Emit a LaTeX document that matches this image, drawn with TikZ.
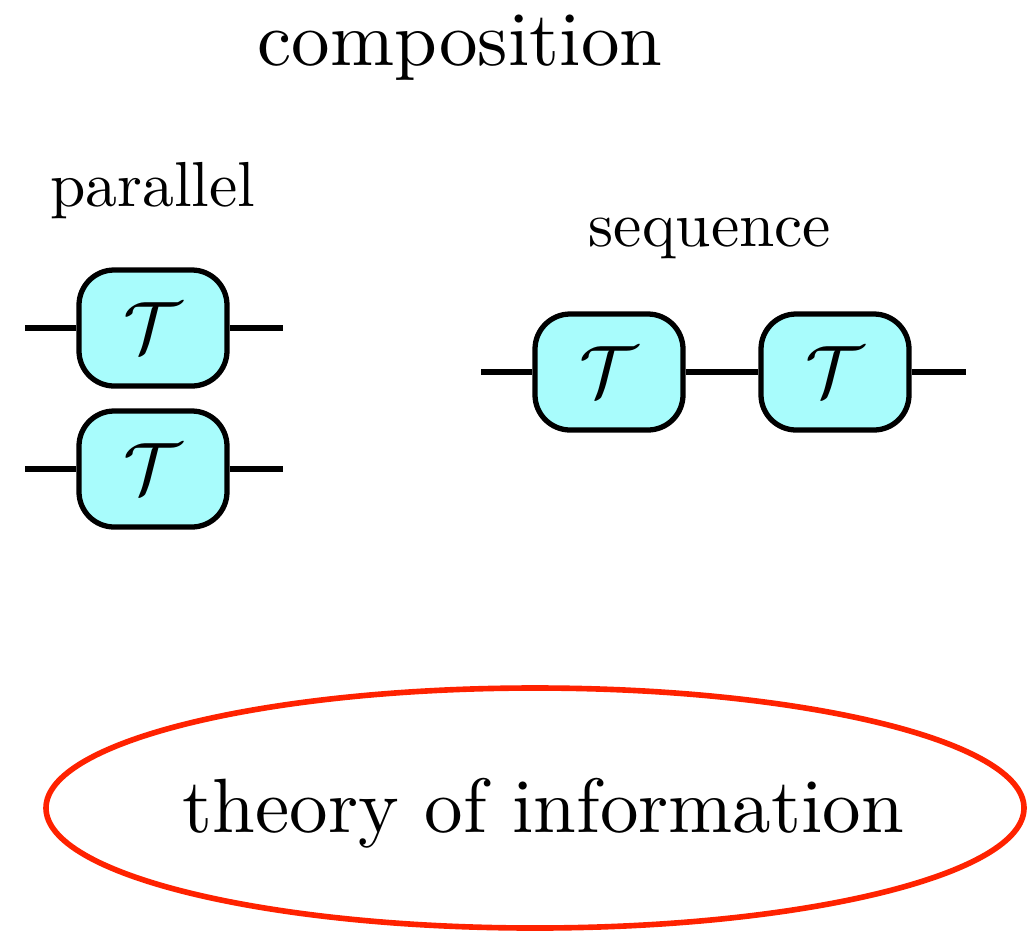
\documentclass[tikz,border=0pt]{standalone}
\usepackage{amsmath,amssymb}
\usepackage{tikz}
\usetikzlibrary{shapes.geometric}
\definecolor{boxcyan}{RGB}{168,252,252}
\definecolor{infored}{RGB}{255,34,0}
\begin{document}
\begin{tikzpicture}[
        box/.style={draw, line width=1.5pt, fill=boxcyan, rounded corners=10pt,
            minimum width=1.48cm, minimum height=1.16cm, inner sep=0pt,
            font=\fontsize{20}{24}\selectfont},
        wire/.style={line width=1.5pt},
        bigtext/.style={anchor=base, scale=2.19},
        smalltext/.style={anchor=base, scale=1.81}
    ]
        \useasboundingbox (0,0) rectangle (10.28,9.31);

        \coordinate (P1) at (1.53,6.03);
        \coordinate (P2) at (1.53,4.62);
        \coordinate (S1) at (6.09,5.59);
        \coordinate (S2) at (8.35,5.59);

        % free ends of the wires
        \coordinate (p1l) at (0.25,6.03);
        \coordinate (p1r) at (2.83,6.03);
        \coordinate (p2l) at (0.25,4.62);
        \coordinate (p2r) at (2.83,4.62);
        \coordinate (sl) at (4.81,5.59);
        \coordinate (sr) at (9.66,5.59);

        \node[bigtext] (title) at (4.60,8.66) {composition};
        \node[smalltext] (par) at (1.53,7.25) {parallel};
        \node[smalltext] (seq) at (7.10,6.85) {sequence};

        \node[box] (p1) at (P1) {$\mathcal{T}$};
        \node[box] (p2) at (P2) {$\mathcal{T}$};
        \node[box] (s1) at (S1) {$\mathcal{T}$};
        \node[box] (s2) at (S2) {$\mathcal{T}$};

        \draw[wire] (p1l) -- (p1);
        \draw[wire] (p1) -- (p1r);
        \draw[wire] (p2l) -- (p2);
        \draw[wire] (p2) -- (p2r);
        \draw[wire] (sl) -- (s1);
        \draw[wire] (s1) -- (s2);
        \draw[wire] (s2) -- (sr);

        \node[draw=infored, line width=1.6pt, ellipse, minimum width=9.78cm,
            minimum height=2.40cm, inner sep=0pt] (info) at (5.35,1.23) {};
        \node[bigtext] (infotext) at (5.435,0.99) {theory of information};
    \end{tikzpicture}
\end{document}
